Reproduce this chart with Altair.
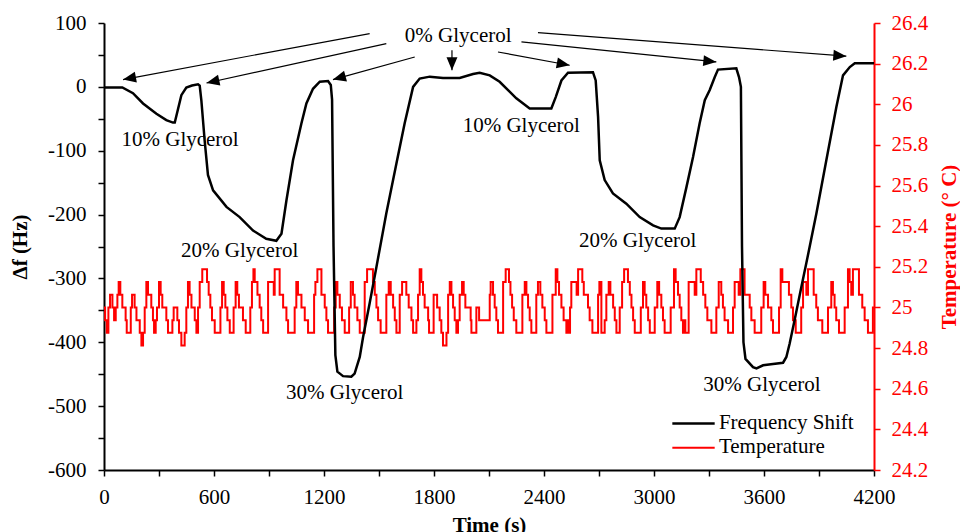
import math
import altair as alt
import pandas as pd

# ---------------- data ----------------
# Frequency shift (Hz) against time (s)
freq_time = [0, 100, 158, 213, 286, 340, 376, 386, 422, 449,
             480, 513, 522, 531, 549, 567, 595, 668, 740, 813,
             885, 940, 968, 995, 1031, 1077, 1104, 1140, 1177, 1222,
             1237, 1244, 1252, 1262, 1273, 1304, 1349, 1367, 1395, 1413,
             1449, 1486, 1540, 1595, 1640, 1686, 1722, 1777, 1849, 1940,
             2013, 2049, 2104, 2158, 2204, 2249, 2322, 2440, 2464, 2495,
             2531, 2667, 2682, 2695, 2704, 2731, 2776, 2849, 2922, 2995,
             3040, 3113, 3140, 3177, 3213, 3249, 3277, 3304, 3331, 3349,
             3449, 3464, 3474, 3480, 3488, 3499, 3540, 3559, 3595, 3649,
             3704, 3722, 3740, 3767, 3804, 3831, 3886, 3940, 3995, 4031,
             4068, 4095, 4200]
freq_shift = [-1, -1, -10, -26, -42, -52, -56, -56, -13, -1,
              2, 4, 2, -21, -84, -138, -162, -188, -204, -225,
              -238, -241, -230, -178, -115, -57, -26, -3, 8, 9,
              3, -20, -250, -420, -446, -453, -454, -449, -423, -392,
              -339, -282, -198, -120, -57, 0, 13, 16, 14, 14,
              20, 22, 18, 8, -5, -18, -34, -34, -16, 10,
              22, 23, 10, -47, -115, -146, -167, -183, -204, -217,
              -222, -222, -204, -157, -110, -57, -21, -5, 15, 27,
              29, 15, 0, -250, -400, -426, -439, -441, -436, -434,
              -432, -423, -402, -365, -313, -276, -198, -115, -31, 18,
              31, 37, 37]

# Temperature (deg C) readings: (time s, temperature)
temperature_points = [
    (0, 25.0), (6, 24.9375), (15, 24.875), (24, 25.0), (33, 25.0625), (46, 25.0), (55, 24.9375), (64, 25.0),
    (73, 25.0625), (80, 25.125), (89, 25.0625), (100, 25.0), (113, 25.0), (118, 24.9375), (124, 24.875),
    (140, 24.875), (146, 25.0), (153, 25.0625), (160, 25.0625), (167, 25.0), (177, 24.9375), (186, 24.9375),
    (195, 24.875), (204, 24.8125), (213, 24.875), (222, 25.0), (231, 25.125), (240, 25.0625), (249, 25.0625),
    (258, 25.0), (267, 24.9375), (273, 24.875), (282, 24.9375), (289, 25.0), (300, 25.125), (309, 25.0625),
    (318, 25.0), (331, 25.0), (340, 24.9375), (349, 24.875), (367, 24.875), (373, 24.9375), (380, 25.0),
    (391, 25.0), (400, 24.9375), (409, 24.875), (422, 24.8125), (431, 24.8125), (440, 24.875), (449, 25.0),
    (458, 25.125), (467, 25.0625), (477, 25.0), (486, 25.0), (495, 24.9375), (504, 24.875), (513, 25.0),
    (522, 25.125), (536, 25.1875), (555, 25.1875), (562, 25.125), (571, 25.0625), (580, 25.0), (589, 24.9375),
    (604, 24.875), (627, 24.875), (635, 25.0), (644, 25.125), (653, 25.0625), (662, 25.0), (673, 24.9375),
    (686, 24.875), (700, 24.875), (707, 25.0), (718, 25.125), (727, 25.0625), (736, 25.0), (749, 25.0),
    (758, 24.9375), (773, 24.875), (791, 24.875), (798, 25.0), (807, 25.125), (815, 25.1875),
    (822, 25.125), (837, 25.0625), (849, 25.0), (858, 24.9375), (868, 24.875), (886, 24.875), (895, 25.125),
    (922, 25.125), (926, 25.0625), (931, 25.1875), (949, 25.1875), (958, 25.0625), (977, 25.0), (986, 25.0),
    (995, 24.9375), (1004, 24.875), (1031, 24.875), (1040, 25.0), (1049, 25.125), (1058, 25.0625),
    (1077, 25.0), (1095, 24.9375), (1113, 24.875), (1131, 24.875), (1146, 25.0625), (1153, 25.125),
    (1164, 25.1875), (1173, 25.1875), (1186, 25.0625), (1204, 25.0), (1213, 24.9375), (1222, 24.875),
    (1244, 24.875), (1255, 25.0), (1264, 25.125), (1273, 25.0625), (1286, 25.0), (1298, 24.9375),
    (1313, 24.875), (1327, 24.875), (1337, 25.0), (1346, 25.125), (1358, 25.0625), (1367, 25.0),
    (1382, 24.9375), (1395, 24.875), (1413, 24.875), (1422, 25.125), (1435, 25.1875), (1458, 25.1875),
    (1467, 25.125), (1477, 25.0625), (1486, 25.0), (1495, 24.9375), (1509, 24.875), (1531, 24.875),
    (1540, 25.0625), (1553, 25.125), (1564, 25.0625), (1577, 25.0), (1586, 24.9375), (1595, 24.875),
    (1604, 24.875), (1613, 25.0625), (1626, 25.125), (1637, 25.125), (1649, 25.0625), (1662, 25.0),
    (1677, 24.9375), (1686, 24.875), (1700, 24.875), (1704, 24.9375), (1713, 25.0625), (1722, 25.1875),
    (1731, 25.125), (1740, 25.0625), (1749, 25.0), (1758, 25.0), (1768, 24.9375), (1773, 24.875),
    (1791, 24.875), (1798, 25.0625), (1809, 25.0625), (1817, 25.0), (1828, 25.0), (1831, 24.9375),
    (1840, 24.875), (1849, 24.8125), (1858, 24.8125), (1868, 24.875), (1877, 25.0625), (1886, 25.125),
    (1895, 25.0625), (1904, 25.0), (1913, 24.9375), (1922, 24.875), (1931, 24.9375), (1940, 25.0625),
    (1953, 25.125), (1962, 25.0625), (1971, 25.0), (1991, 25.0), (2000, 24.9375), (2004, 24.875),
    (2022, 24.875), (2031, 25.0), (2037, 25.0), (2046, 24.9375), (2095, 24.9375), (2104, 25.0625),
    (2109, 25.125), (2122, 25.0625), (2131, 25.0), (2140, 24.9375), (2149, 24.875), (2168, 24.875),
    (2177, 25.125), (2191, 25.1875), (2204, 25.1875), (2209, 25.125), (2217, 25.0625), (2226, 25.0),
    (2235, 24.9375), (2249, 24.875), (2271, 24.875), (2282, 25.0625), (2295, 25.125), (2304, 25.0625),
    (2313, 25.0), (2322, 24.9375), (2331, 24.875), (2349, 24.875), (2358, 25.0625), (2367, 25.125),
    (2380, 25.0625), (2391, 25.0), (2404, 24.9375), (2413, 24.875), (2431, 24.875), (2446, 25.0625),
    (2464, 25.1875), (2473, 25.125), (2482, 25.0625), (2495, 25.0), (2507, 24.9375),
    (2513, 24.9375), (2522, 24.875), (2528, 24.9375), (2535, 24.875), (2542, 25.0), (2549, 25.125),
    (2573, 25.125), (2578, 25.0625), (2586, 25.1875), (2604, 25.1875), (2609, 25.125), (2617, 25.0625),
    (2631, 25.0625), (2640, 25.0), (2649, 24.9375), (2658, 24.9375), (2664, 24.875), (2686, 24.875),
    (2695, 25.0625), (2702, 25.125), (2713, 24.875), (2728, 24.875), (2731, 24.9375), (2740, 25.0625),
    (2753, 25.125), (2762, 25.0625), (2777, 25.0), (2786, 24.9375), (2795, 24.875), (2804, 24.875),
    (2813, 25.0), (2826, 25.125), (2837, 25.1875), (2849, 25.1875), (2858, 25.125), (2868, 25.0625),
    (2877, 25.0), (2886, 24.9375), (2895, 24.875), (2917, 24.875), (2928, 25.0), (2940, 25.125),
    (2949, 25.0625), (2958, 25.0), (2968, 24.9375), (2977, 24.875), (2995, 24.875), (3004, 25.0),
    (3018, 25.125), (3028, 25.0625), (3040, 25.0), (3049, 24.9375), (3058, 24.875), (3080, 24.875),
    (3091, 25.0), (3109, 25.1875), (3118, 25.125), (3131, 25.0625), (3140, 25.0), (3149, 24.9375),
    (3158, 24.875), (3164, 24.9375), (3171, 24.875), (3177, 24.875), (3189, 25.125), (3213, 25.125),
    (3222, 25.0625), (3231, 25.1875), (3249, 25.1875), (3255, 25.125), (3268, 25.0625), (3280, 25.0),
    (3291, 24.9375), (3304, 24.9375), (3313, 24.875), (3331, 24.875), (3340, 25.0), (3353, 25.125),
    (3367, 25.0625), (3376, 25.0), (3385, 24.9375), (3404, 24.875), (3422, 24.875), (3431, 25.0),
    (3440, 25.125), (3458, 25.125), (3462, 25.0625), (3471, 25.1875), (3485, 25.1875), (3494, 25.0625),
    (3513, 25.0625), (3522, 25.0), (3531, 24.9375), (3549, 24.875), (3573, 24.875), (3585, 25.0),
    (3598, 25.125), (3607, 25.0625), (3622, 25.0), (3640, 24.9375), (3649, 24.875), (3671, 24.875),
    (3682, 25.0), (3691, 25.1875), (3700, 25.125), (3722, 25.125), (3736, 25.0625), (3749, 25.0),
    (3758, 24.9375), (3773, 24.875), (3794, 24.875), (3803, 25.0), (3813, 25.125), (3825, 25.125),
    (3831, 25.0625), (3840, 25.1875), (3858, 25.1875), (3871, 25.0625), (3885, 25.0), (3894, 24.9375),
    (3918, 24.875), (3940, 24.875), (3949, 25.0), (3967, 25.125), (3976, 25.0625), (3985, 25.0),
    (3994, 24.9375), (4009, 24.875), (4031, 24.875), (4040, 25.0), (4058, 25.1875), (4067, 25.125),
    (4076, 25.0625), (4085, 25.1875), (4103, 25.1875), (4118, 25.0625), (4136, 25.0), (4149, 24.9375),
    (4167, 24.875), (4185, 24.875), (4194, 25.0), (4200, 25.0),
]

# Annotation labels (placed in time / Hz units)
label_text = ["0% Glycerol", "10% Glycerol", "20% Glycerol", "30% Glycerol",
              "10% Glycerol", "20% Glycerol", "30% Glycerol"]
label_time = [1932, 415, 740, 1313, 2276, 2911, 3589]
label_shift = [69.5, -92.4, -266.2, -489.0, -71.4, -251.5, -476.0]

# Arrows from "0% Glycerol" to each 0% plateau
arrow_time_start = [1449, 1540, 1695, 1898, 2149, 2277, 2367]
arrow_shift_start = [83.5, 67.8, 46.8, 57.3, 54.6, 70.3, 85.0]
arrow_time_end = [104, 559, 1249, 1898, 2540, 3340, 4049]
arrow_shift_end = [11.4, 6.1, 11.4, 26.0, 33.8, 39.0, 48.0]

# Legend
legend_names = ["Frequency Shift", "Temperature"]
legend_colors = ["black", "red"]
legend_widths = [2.5, 2.0]
legend_line_time = [3100, 3331]
legend_line_shift = [-527, -565]
legend_text_time = 3354
legend_text_shift = [-536, -574]

# Axis settings
time_ticks = list(range(0, 4201, 300))
shift_ticks = list(range(-600, 101, 50))
temp_ticks = [24.2, 24.4, 24.6, 24.8, 25.0, 25.2, 25.4, 25.6, 25.8, 26.0, 26.2, 26.4]

# ---------------- chart ----------------
FONT = "Liberation Serif"
W, H = 770, 447

freq_df = pd.DataFrame({"t": freq_time, "f": freq_shift})
temp_df = pd.DataFrame(temperature_points, columns=["t", "temp"])
label_df = pd.DataFrame({"t": label_time, "f": label_shift, "label": label_text})

px_t = W / 4200.0
px_f = H / 700.0
angles = []
for ts, fs, te, fe in zip(arrow_time_start, arrow_shift_start, arrow_time_end, arrow_shift_end):
    dx = (te - ts) * px_t
    dy = -(fe - fs) * px_f
    angles.append(math.degrees(math.atan2(dx, -dy)) % 360)
arrow_df = pd.DataFrame({"t": arrow_time_start, "f": arrow_shift_start,
                         "t2": arrow_time_end, "f2": arrow_shift_end})
head_df = pd.DataFrame({"t": arrow_time_end, "f": arrow_shift_end, "ang": angles})

leg_df = pd.DataFrame({"t": [legend_line_time[0]] * 2, "t2": [legend_line_time[1]] * 2,
                       "f": legend_line_shift, "name": legend_names, "color": legend_colors,
                       "w": legend_widths})
leg_text_df = pd.DataFrame({"t": [legend_text_time] * 2, "f": legend_text_shift, "name": legend_names})

x_scale = alt.Scale(domain=[0, 4200], nice=False, zero=False)
f_scale = alt.Scale(domain=[-600, 100], nice=False, zero=False)
temp_scale = alt.Scale(domain=[24.2, 26.4], nice=False, zero=False)

x_axis = alt.Axis(values=time_ticks, labelExpr="datum.value % 600 == 0 ? '' + datum.value : ''",
                  title="Time (s)", titleX=385, titleY=61, titleAlign="center",
                  titleBaseline="alphabetic", labelPadding=10, labelFlush=False,
                  labelOverlap=False, orient="bottom")
f_axis = alt.Axis(values=shift_ticks, labelExpr="datum.value % 100 == 0 ? '' + datum.value : ''",
                  title="Δf (Hz)", titleAngle=270, titleX=-84, titleY=223.5, titleAlign="center",
                  titleBaseline="middle", labelPadding=12, labelFlush=False, labelOverlap=False,
                  orient="left")
temp_axis = alt.Axis(values=temp_ticks, labelExpr="'' + datum.value",
                     title="Temperature (° C)", titleAngle=270, titleX=75, titleY=223.5,
                     titleAlign="center", titleBaseline="middle", labelPadding=11,
                     labelFlush=False, labelOverlap=False, orient="right",
                     domainColor="red", tickColor="red", labelColor="red", titleColor="red")

X = alt.X("t:Q", scale=x_scale, axis=x_axis)
Y = alt.Y("f:Q", scale=f_scale, axis=f_axis)

temp_line = alt.Chart(temp_df).mark_line(color="red", strokeWidth=2, interpolate="step-after").encode(
    x=X, y=alt.Y("temp:Q", scale=temp_scale, axis=temp_axis))

freq_line = alt.Chart(freq_df).mark_line(color="black", strokeWidth=2.5).encode(x=X, y=Y)

arrows = alt.Chart(arrow_df).mark_rule(color="black", strokeWidth=1.2).encode(
    x=X, y=Y, x2="t2:Q", y2="f2:Q")

HEAD = "M0,0L-0.42,1L0.42,1Z"
heads = alt.Chart(head_df).mark_point(shape=HEAD, filled=True, color="black", opacity=1,
                                      size=676, strokeWidth=0).encode(
    x=X, y=Y, angle=alt.Angle("ang:Q", scale=None))

labels = alt.Chart(label_df).mark_text(font=FONT, fontSize=21, color="black", align="center",
                                       baseline="alphabetic").encode(x=X, y=Y, text="label:N")

leg_lines = alt.Chart(leg_df).mark_rule().encode(
    x=X, x2="t2:Q", y=Y, color=alt.Color("color:N", scale=None),
    strokeWidth=alt.StrokeWidth("w:Q", scale=None))

leg_text = alt.Chart(leg_text_df).mark_text(font=FONT, fontSize=21, color="black", align="left",
                                            baseline="alphabetic").encode(x=X, y=Y, text="name:N")

freq_group = alt.layer(freq_line, arrows, heads, labels, leg_lines, leg_text)

chart = alt.layer(temp_line, freq_group).resolve_scale(y="independent").properties(
    width=W, height=H,
    autosize=alt.AutoSizeParams(type="none"),
    padding={"left": 96, "top": 15, "right": 86, "bottom": 62},
).configure_view(stroke=None).configure_axis(
    labelFont=FONT, titleFont=FONT, labelFontSize=21, titleFontSize=21,
    titleFontWeight="bold", grid=False, tickSize=6, domainWidth=2, tickWidth=1.5,
    labelColor="black", domainColor="black", tickColor="black", titleColor="black",
)

chart.save("out.html", embed_options={"renderer": "svg", "actions": False})
